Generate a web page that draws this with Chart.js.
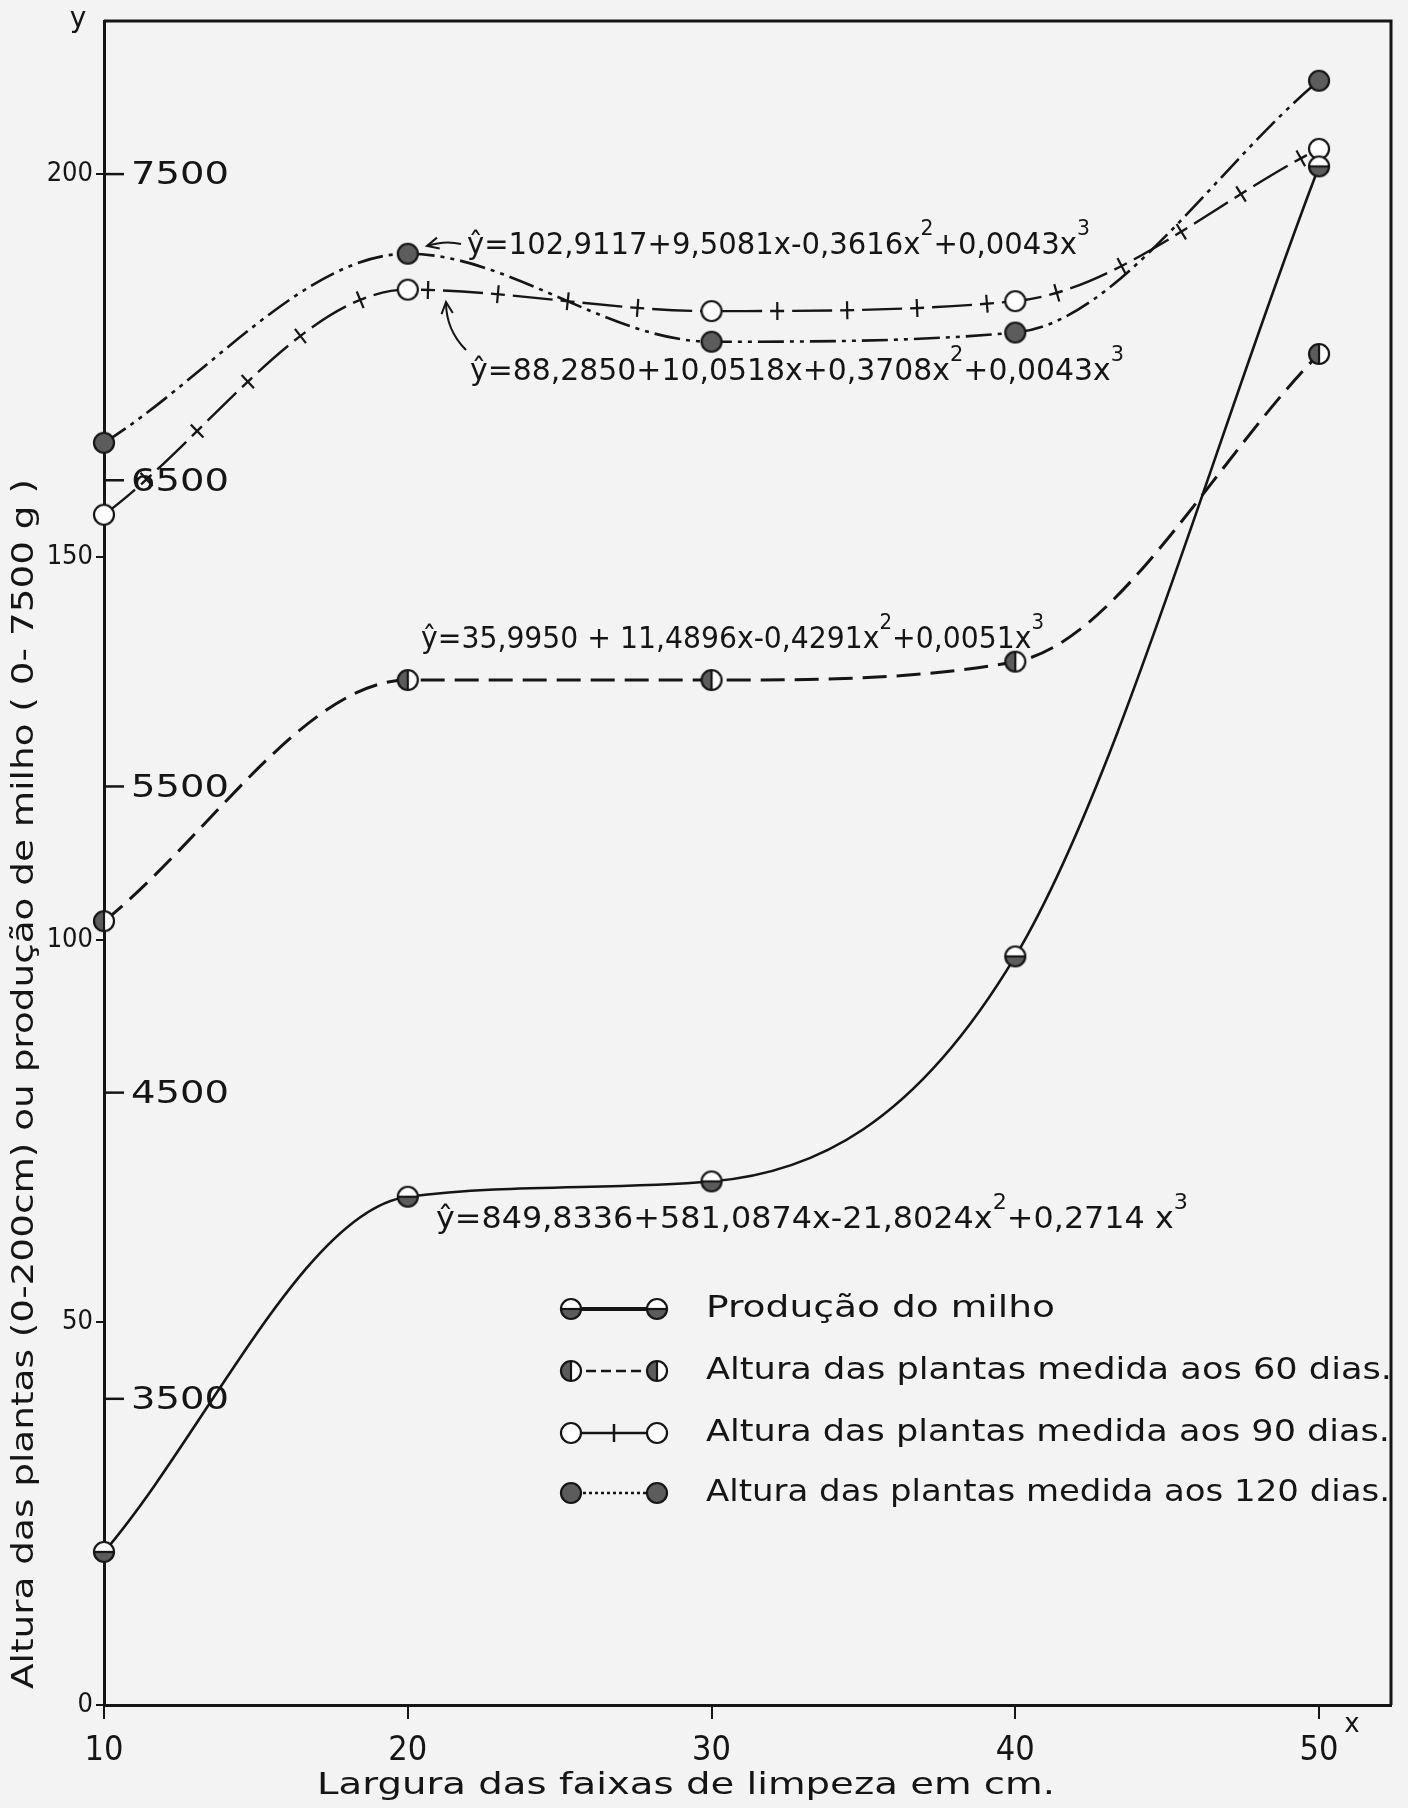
<!DOCTYPE html>
<html>
<head>
<meta charset="utf-8">
<script src="https://cdn.jsdelivr.net/npm/chart.js@4.4.1/dist/chart.umd.min.js"></script>
<style>
    html, body { margin: 0; padding: 0; background: #f3f3f3; }
    #wrap { width: 1408px; height: 1808px; position: relative; }
</style>
</head>
<body>
<div id="wrap"><canvas id="grafico"></canvas></div>
<script>
// largura das faixas (cm)
const larguras = [10, 20, 30, 40, 50];
// produção do milho (g)
const producao = [3000, 4160, 4210, 4945, 7525];
// altura das plantas (cm)
const altura60 = [102.4, 133.9, 133.9, 136.3, 176.5];
const altura90 = [155.5, 184.9, 182.1, 183.4, 203.3];
const altura120 = [164.9, 189.6, 178.1, 179.3, 212.2];

const xTicks = [10, 20, 30, 40, 50];
const alturaTicks = [0, 50, 100, 150, 200];
const producaoTicks = [3500, 4500, 5500, 6500, 7500];

const nomes = ['Produção do milho', 'Altura das plantas medida aos 60 dias.',
    'Altura das plantas medida aos 90 dias.', 'Altura das plantas medida aos 120 dias.'];
const equacoes = ['ŷ=849,8336+581,0874x-21,8024x^2+0,2714 x^3',
    'ŷ=35,9950 + 11,4896x-0,4291x^2+0,0051x^3',
    'ŷ=88,2850+10,0518x+0,3708x^2+0,0043x^3',
    'ŷ=102,9117+9,5081x-0,3616x^2+0,0043x^3'];

const FONT = '"DejaVu Sans", sans-serif';
const NARROW = '"Liberation Sans Narrow", "DejaVu Sans Condensed", "DejaVu Sans", sans-serif';
const INK = '#151515';

function makeMarker(kind) {
    const c = document.createElement('canvas');
    c.width = 26;
    c.height = 26;
    const g = c.getContext('2d');
    const r = 10;
    g.fillStyle = '#fff';
    g.beginPath(); g.arc(13, 13, r, 0, Math.PI * 2); g.fill();
    g.fillStyle = '#5c5c5c';
    g.beginPath();
    if (kind === 'full') g.arc(13, 13, r, 0, Math.PI * 2);
    if (kind === 'bottom') g.arc(13, 13, r, 0, Math.PI);
    if (kind === 'left') g.arc(13, 13, r, Math.PI / 2, Math.PI * 1.5);
    if (kind !== 'open') g.fill();
    g.strokeStyle = INK;
    g.lineWidth = 2.2;
    g.beginPath(); g.arc(13, 13, r, 0, Math.PI * 2); g.stroke();
    if (kind === 'bottom') { g.beginPath(); g.moveTo(3, 13); g.lineTo(23, 13); g.stroke(); }
    if (kind === 'left') { g.beginPath(); g.moveTo(13, 3); g.lineTo(13, 23); g.stroke(); }
    return c;
}
const markers = [makeMarker('bottom'), makeMarker('left'), makeMarker('open'), makeMarker('full')];

function toPoints(values) {
    return larguras.map((x, i) => ({x: x, y: values[i]}));
}

// texto ajustado a uma largura dada
function fitText(ctx, text, x, y, width, font) {
    ctx.save();
    ctx.font = font;
    const w = ctx.measureText(text).width;
    ctx.translate(x, y);
    ctx.scale(width / w, 1);
    ctx.textAlign = 'left';
    ctx.textBaseline = 'middle';
    ctx.fillText(text, 0, 0);
    ctx.restore();
}

function drawEquation(ctx, eq, x, y, width, size) {
    const parts = eq.split(/\^(\d)/);
    ctx.save();
    let total = 0;
    parts.forEach((p, i) => {
        ctx.font = (i % 2 ? Math.round(size * 0.7) : size) + 'px ' + FONT;
        total += ctx.measureText(p).width;
    });
    ctx.translate(x, y);
    ctx.scale(width / total, 1);
    ctx.textBaseline = 'middle';
    ctx.textAlign = 'left';
    let cx = 0;
    parts.forEach((p, i) => {
        ctx.font = (i % 2 ? Math.round(size * 0.7) : size) + 'px ' + FONT;
        ctx.fillText(p, cx, i % 2 ? -size * 0.55 : 0);
        cx += ctx.measureText(p).width;
    });
    ctx.restore();
}

function arrowHead(ctx, x, y, ang) {
    ctx.beginPath();
    ctx.moveTo(x + Math.cos(ang + 0.45) * 13, y + Math.sin(ang + 0.45) * 13);
    ctx.lineTo(x, y);
    ctx.lineTo(x + Math.cos(ang - 0.45) * 13, y + Math.sin(ang - 0.45) * 13);
    ctx.stroke();
}

const moldura = {
    id: 'moldura',
    afterDraw(chart) {
        const a = chart.chartArea;
        const ctx = chart.ctx;
        ctx.save();
        ctx.strokeStyle = INK;
        ctx.lineWidth = 3;
        ctx.beginPath();
        ctx.moveTo(a.left, a.top);
        ctx.lineTo(a.right, a.top);
        ctx.lineTo(a.right, a.bottom);
        ctx.stroke();
        ctx.restore();
    }
};

// escala interna de produção (g)
const escalaGramas = {
    id: 'escalaGramas',
    afterDraw(chart) {
        const ctx = chart.ctx;
        const yg = chart.scales.yg;
        const left = chart.chartArea.left;
        ctx.save();
        ctx.strokeStyle = INK;
        ctx.fillStyle = INK;
        ctx.lineWidth = 2.5;
        producaoTicks.forEach(v => {
            const py = yg.getPixelForValue(v);
            ctx.beginPath();
            ctx.moveTo(left, py);
            ctx.lineTo(left + 20, py);
            ctx.stroke();
            fitText(ctx, String(v), left + 27, py + 2, 98, '32px ' + FONT);
        });
        ctx.restore();
    }
};

// cruzes sobre a curva de 90 dias
const cruzes = {
    id: 'cruzes',
    afterDatasetsDraw(chart) {
        const pts = chart.getDatasetMeta(2).data;
        const ctx = chart.ctx;
        const period = 70;
        let s = 0;
        let next = 55;
        ctx.save();
        ctx.strokeStyle = INK;
        ctx.lineWidth = 2.2;
        for (let i = 0; i < pts.length - 1; i++) {
            const a = pts[i], b = pts[i + 1];
            const P = [[a.x, a.y], [a.cp2x, a.cp2y], [b.cp1x, b.cp1y], [b.x, b.y]];
            let prev = P[0];
            for (let k = 1; k <= 300; k++) {
                const t = k / 300, u = 1 - t;
                const p = [0, 1].map(j => u * u * u * P[0][j] + 3 * u * u * t * P[1][j] + 3 * u * t * t * P[2][j] + t * t * t * P[3][j]);
                const d = Math.hypot(p[0] - prev[0], p[1] - prev[1]);
                if (s + d >= next) {
                    const near = pts.some(q => Math.hypot(q.x - p[0], q.y - p[1]) < 18);
                    if (!near) {
                        const ang = Math.atan2(p[1] - prev[1], p[0] - prev[0]) + Math.PI / 2;
                        ctx.beginPath();
                        ctx.moveTo(p[0] - Math.cos(ang) * 9, p[1] - Math.sin(ang) * 9);
                        ctx.lineTo(p[0] + Math.cos(ang) * 9, p[1] + Math.sin(ang) * 9);
                        ctx.stroke();
                    }
                    next += period;
                }
                s += d;
                prev = p;
            }
        }
        ctx.restore();
    }
};

const anotacoes = {
    id: 'anotacoes',
    afterDraw(chart) {
        const ctx = chart.ctx;
        ctx.save();
        ctx.fillStyle = INK;
        ctx.strokeStyle = INK;
        drawEquation(ctx, equacoes[0], 436, 1220, 752, 30);
        drawEquation(ctx, equacoes[1], 421, 640, 623, 30);
        drawEquation(ctx, equacoes[2], 470, 372, 654, 30);
        drawEquation(ctx, equacoes[3], 467, 246, 623, 30);

        // setas
        ctx.lineWidth = 2;
        ctx.beginPath();
        ctx.moveTo(461, 244);
        ctx.quadraticCurveTo(445, 240, 427, 246);
        ctx.stroke();
        arrowHead(ctx, 427, 246, -0.25);
        ctx.beginPath();
        ctx.moveTo(466, 350);
        ctx.quadraticCurveTo(446, 330, 446, 302);
        ctx.stroke();
        arrowHead(ctx, 446, 302, Math.PI / 2 - 0.1);

        // títulos dos eixos
        fitText(ctx, 'Largura das faixas de limpeza em cm.', 317, 1786, 738, '30px ' + FONT);
        ctx.save();
        ctx.translate(25, 1689);
        ctx.rotate(-Math.PI / 2);
        fitText(ctx, 'Altura das plantas (0-200cm) ou produção de milho ( 0- 7500 g )', 0, 0, 1210, '30px ' + FONT);
        ctx.restore();
        ctx.font = '28px ' + FONT;
        ctx.textAlign = 'center';
        ctx.textBaseline = 'middle';
        ctx.fillText('y', 78, 20);
        ctx.font = '26px ' + FONT;
        ctx.fillText('x', 1352, 1725);
        ctx.restore();
    }
};

const legenda = {
    id: 'legenda',
    afterDraw(chart) {
        const ctx = chart.ctx;
        const rows = [1309, 1371, 1433, 1493];
        const widths = [349, 686, 684, 684];
        const x1 = 571, x2 = 657;
        ctx.save();
        ctx.strokeStyle = INK;
        ctx.fillStyle = INK;
        rows.forEach((y, i) => {
            ctx.lineWidth = i === 0 ? 4 : 2.5;
            ctx.setLineDash([[], [10, 5], [], [3, 3]][i]);
            ctx.beginPath();
            ctx.moveTo(x1, y);
            ctx.lineTo(x2, y);
            ctx.stroke();
            ctx.setLineDash([]);
            if (i === 2) {
                ctx.beginPath();
                ctx.moveTo((x1 + x2) / 2, y - 9);
                ctx.lineTo((x1 + x2) / 2, y + 9);
                ctx.stroke();
            }
            ctx.drawImage(markers[i], x1 - 13, y - 13);
            ctx.drawImage(markers[i], x2 - 13, y - 13);
            fitText(ctx, nomes[i], 706, y, widths[i], '30px ' + FONT);
        });
        ctx.restore();
    }
};

const lineBase = {
    borderColor: INK,
    pointBorderColor: INK,
    pointRadius: 10,
    cubicInterpolationMode: 'monotone',
    clip: false
};

new Chart(document.getElementById('grafico'), {
    type: 'line',
    data: {
        datasets: [
            Object.assign({}, lineBase, {label: nomes[0], data: toPoints(producao), yAxisID: 'yg',
                borderWidth: 2.6, pointStyle: markers[0]}),
            Object.assign({}, lineBase, {label: nomes[1], data: toPoints(altura60), yAxisID: 'y',
                borderWidth: 3, borderDash: [24, 10], pointStyle: markers[1]}),
            Object.assign({}, lineBase, {label: nomes[2], data: toPoints(altura90), yAxisID: 'y',
                borderWidth: 2.4, borderDash: [40, 8, 14, 8], pointStyle: markers[2]}),
            Object.assign({}, lineBase, {label: nomes[3], data: toPoints(altura120), yAxisID: 'y',
                borderWidth: 2.6, borderDash: [26, 6, 4, 6, 4, 6], pointStyle: markers[3]})
        ]
    },
    options: {
        responsive: true,
        maintainAspectRatio: false,
        animation: false,
        layout: {padding: {top: 21, right: 17, left: 0, bottom: 0}},
        plugins: {legend: {display: false}, tooltip: {enabled: false}},
        scales: {
            x: {
                type: 'linear',
                min: 10,
                max: 52.37,
                afterBuildTicks: s => { s.ticks = xTicks.map(v => ({value: v})); },
                afterFit: s => { s.height = 103; },
                grid: {drawOnChartArea: false, tickLength: 14, color: INK, lineWidth: 2},
                border: {color: INK, width: 3},
                ticks: {color: INK, padding: 12, maxRotation: 0, font: {family: NARROW, size: 34}}
            },
            y: {
                type: 'linear',
                min: 0,
                max: 220,
                afterBuildTicks: s => { s.ticks = alturaTicks.map(v => ({value: v})); },
                afterFit: s => { s.width = 104; },
                grid: {drawOnChartArea: false, tickLength: 8, color: INK, lineWidth: 2},
                border: {color: INK, width: 3},
                ticks: {color: INK, padding: 3, font: {family: NARROW, size: 27}}
            },
            yg: {
                type: 'linear',
                display: false,
                position: 'right',
                min: 2500,
                max: 8000
            }
        }
    },
    plugins: [moldura, escalaGramas, cruzes, anotacoes, legenda]
});
</script>
</body>
</html>
